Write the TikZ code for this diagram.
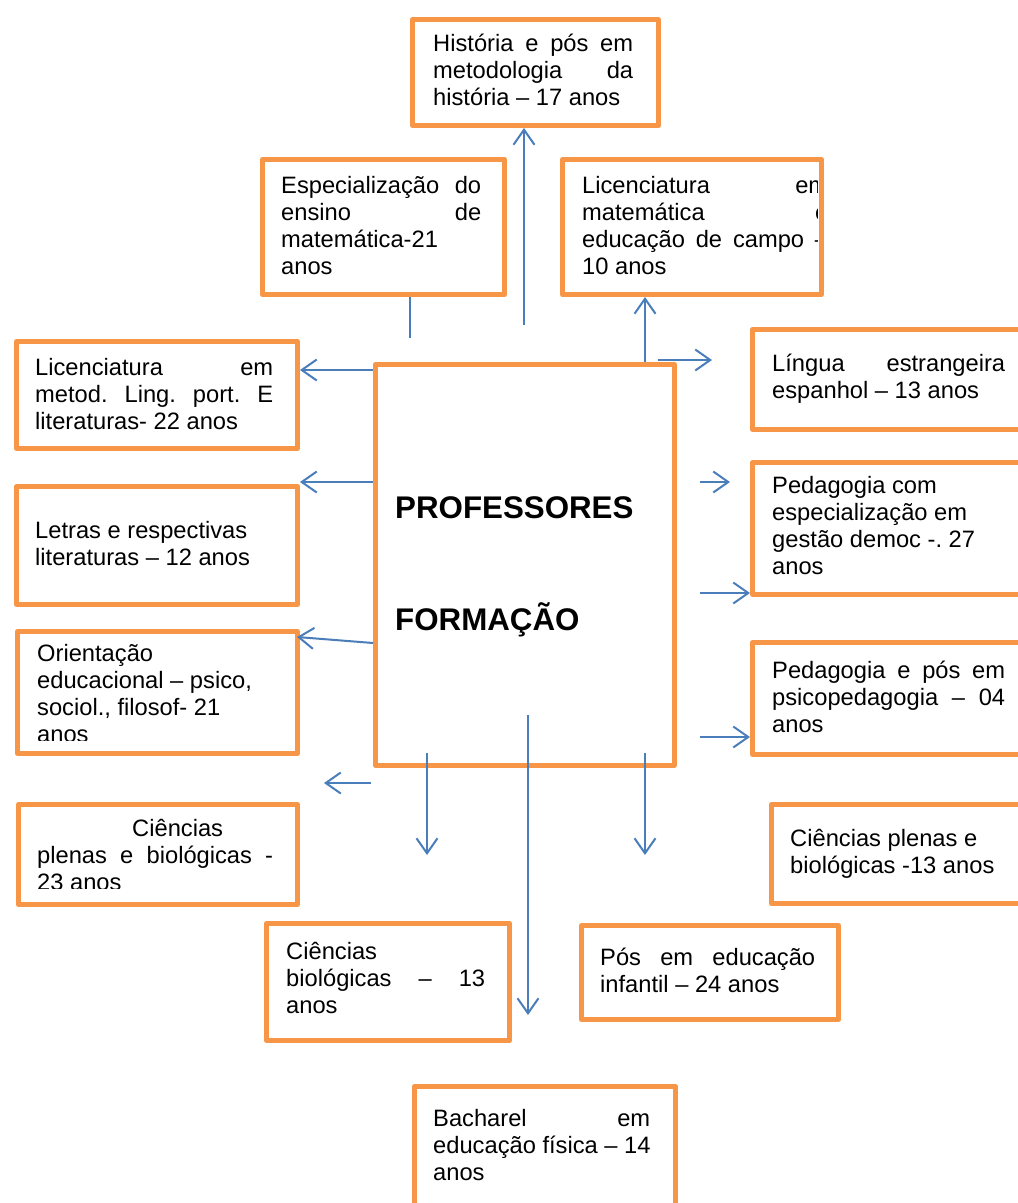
\documentclass[tikz,border=0pt]{standalone}
\usepackage{fontspec}
\setmainfont{Liberation Sans}
\usetikzlibrary{arrows.meta}
\definecolor{boxor}{HTML}{F79646}
\definecolor{arrblue}{HTML}{4A7EBB}
\newcommand\J[2]{\leavevmode\hbox to #1{\spaceskip=\fontdimen2\font plus 1fil\relax\xspaceskip=\spaceskip #2}}
\newcommand\natsp{\spaceskip=0pt\relax\xspaceskip=0pt\relax\frenchspacing}
\begin{document}
\begin{tikzpicture}[x=1pt,y=-1pt,
  boxst/.style={draw=boxor, line width=5pt, line join=round, inner sep=0pt, anchor=north west},
  txt/.style={anchor=base west, inner sep=0pt, align=left, font=\fontsize{23.7}{27.3}\selectfont\frenchspacing,
    execute at begin node=\natsp},
  arr/.style={draw=arrblue, line width=2pt, -{Straight Barb[length=15pt,width=21pt]}},
  plainln/.style={draw=arrblue, line width=2pt}]
\clip (0,0) rectangle (1018,1203);
\fill[white] (0,0) rectangle (1018,1203);

% ---------- boxes ----------
\node[boxst, minimum width=246pt, minimum height=106pt] (hist)   at (410,17) {};
\node[boxst, minimum width=242pt, minimum height=135pt] (espec)  at (260,157) {};
\node[boxst, minimum width=259pt, minimum height=135pt] (licmat) at (560,157) {};
\node[boxst, minimum width=281pt, minimum height=107pt] (licmet) at (14,339) {};
\node[boxst, minimum width=281pt, minimum height=118pt] (letras) at (14,484) {};
\node[boxst, minimum width=280pt, minimum height=122pt] (orient) at (15,629) {};
\node[boxst, minimum width=279pt, minimum height=100pt] (ciepla) at (16,802) {};
\node[boxst, minimum width=243pt, minimum height=117pt] (ciebio) at (264,921) {};
\node[boxst, minimum width=257pt, minimum height=94pt]  (posinf) at (579,923) {};
\node[boxst, minimum width=261pt, minimum height=130pt] (bach)   at (412,1084) {};
\node[boxst, minimum width=280pt, minimum height=100pt] (lingua) at (750,327) {};
\node[boxst, minimum width=280pt, minimum height=132pt] (pedesp) at (750,460) {};
\node[boxst, minimum width=280pt, minimum height=112pt] (pedpos) at (750,640) {};
\node[boxst, minimum width=260pt, minimum height=99pt]  (cieplb) at (769,802) {};
\node[boxst, line width=4.5pt, minimum width=299pt, minimum height=401pt] (core) at (373,362) {};

% ---------- texts ----------
\node[txt, text width=200pt] (thist) at (433,51)
  {\J{200pt}{História e pós em}\\ \J{200pt}{metodologia da}\\ história – 17 anos};
\node[txt, text width=200pt] (tespec) at (281,193)
  {\J{200pt}{Especialização do}\\ \J{200pt}{ensino de}\\ matemática-21\\ anos};
\begin{scope}
  \clip (562,160) rectangle (817,290);
  \node[txt, text width=246pt] (tlicmat) at (582,193)
    {\J{246pt}{Licenciatura em}\\ \J{246pt}{matemática e}\\ \J{246pt}{educação de campo –}\\ 10 anos};
\end{scope}
\node[txt, text width=238pt] (tlicmet) at (35,375)
  {\J{238pt}{Licenciatura em}\\ \J{238pt}{metod. Ling. port. E}\\ literaturas- 22 anos};
\node[txt, text width=238pt] (tletras) at (35,538)
  {Letras e respectivas\\ literaturas – 12 anos};
\begin{scope}
  \clip (17,632) rectangle (293,740);
  \node[txt, text width=238pt] (torient) at (37,661)
    {Orientação\\ educacional – psico,\\ sociol., filosof- 21\\ anos};
\end{scope}
\begin{scope}
  \clip (18,805) rectangle (293,888);
  \node[txt, text width=236pt] (tciepla) at (37,836)
    {\hspace*{95pt}Ciências\\ \J{236pt}{plenas e biológicas -}\\ 23 anos};
\end{scope}
\node[txt, text width=199pt] (tciebio) at (286,959)
  {Ciências\\ \J{199pt}{biológicas – 13}\\ anos};
\node[txt, text width=215pt] (tposinf) at (600,965)
  {\J{215pt}{Pós em educação}\\ infantil – 24 anos};
\node[txt, text width=218pt] (tbach) at (433,1126)
  {\J{217pt}{Bacharel em}\\ \J{217pt}{educação física – 14}\\ anos};
\node[txt, text width=233pt] (tlingua) at (772,371)
  {\J{233pt}{Língua estrangeira}\\ espanhol – 13 anos};
\node[txt, text width=233pt] (tpedesp) at (772,493)
  {Pedagogia com\\ especialização em\\ gestão democ -. 27\\ anos};
\node[txt, text width=233pt] (tpedpos) at (772,678)
  {\J{233pt}{Pedagogia e pós em}\\ \J{233pt}{psicopedagogia – 04}\\ anos};
\node[txt, text width=225pt] (tcieplb) at (790,846)
  {Ciências plenas e\\ biológicas -13 anos};
\node[anchor=base west, inner sep=0pt, font=\bfseries\fontsize{31.3}{36}\selectfont] (tprof) at (395,518) {PROFESSORES};
\node[anchor=base west, inner sep=0pt, font=\bfseries\fontsize{31.3}{36}\selectfont] (tform) at (395,630) {FORMAÇÃO};

% ---------- connector ends ----------
\coordinate (a1) at (524,325);
\coordinate (b1) at (410,338);
\coordinate (c1) at (645,362);
\coordinate (d1) at (658,360);
\coordinate (d2) at (712,360);
\coordinate (e1) at (373,370);
\coordinate (f1) at (373,482);
\coordinate (g1) at (373,643);
\coordinate (g2) at (297,637);
\coordinate (h1) at (371,783);
\coordinate (h2) at (324,783);
\coordinate (i1) at (427,753);
\coordinate (i2) at (427,855);
\coordinate (j1) at (528,715);
\coordinate (j2) at (528,1015);
\coordinate (k1) at (645,753);
\coordinate (k2) at (645,855);
\coordinate (l1) at (700,482);
\coordinate (l2) at (730,482);
\coordinate (m1) at (700,593);
\coordinate (n1) at (700,737);

% ---------- connectors ----------
\draw[arr] (a1) -- (a1 |- hist.south);
\draw[plainln] (b1 |- espec.south) -- (b1);
\draw[arr] (c1) -- (c1 |- licmat.south);
\draw[arr] (d1) -- (d2);
\draw[arr] (e1) -- (e1 -| licmet.east);
\draw[arr] (f1) -- (f1 -| letras.east);
\draw[arr] (g1) -- (g2);
\draw[arr] (h1) -- (h2);
\draw[arr] (i1) -- (i2);
\draw[arr] (j1) -- (j2);
\draw[arr] (k1) -- (k2);
\draw[arr] (l1) -- (l2);
\draw[arr] (m1) -- (m1 -| pedesp.west);
\draw[arr] (n1) -- (n1 -| pedpos.west);
\end{tikzpicture}
\end{document}
